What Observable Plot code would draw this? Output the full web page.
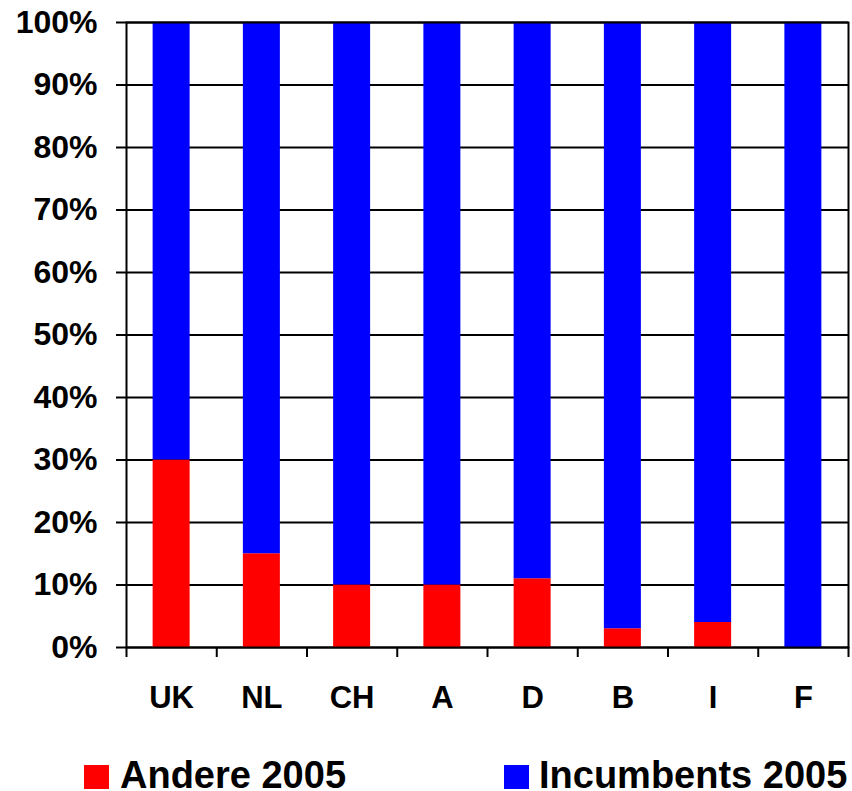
<!DOCTYPE html>
<html>
<head>
<meta charset="utf-8">
<script src="https://cdn.jsdelivr.net/npm/d3@7"></script>
<script src="https://cdn.jsdelivr.net/npm/@observablehq/plot@0.6"></script>
<style>
  body { margin: 0; background: #fff; font-family: "Liberation Sans", Arial, sans-serif; font-weight: bold; }
  #legend { position: relative; width: 852px; height: 51px; overflow: visible; }
  #legend .sw { position: absolute; width: 25px; height: 24px; top: 25px; }
  #legend .lb { position: absolute; top: 20px; font-size: 38px; line-height: 30px; color: #000; white-space: nowrap; }
</style>
</head>
<body>
<div id="chart"></div>
<div id="legend"></div>
<script>
// Market shares 2005 by country (percent)
const countries = ["UK", "NL", "CH", "A", "D", "B", "I", "F"];
const andere = [30, 15, 10, 10, 11, 3, 4, 0];
const incumbents = [70, 85, 90, 90, 89, 97, 96, 100];
const seriesNames = ["Andere 2005", "Incumbents 2005"];
const seriesColors = ["#ff0000", "#0000ff"];
const yTicks = [0, 10, 20, 30, 40, 50, 60, 70, 80, 90, 100];

const rows = countries.flatMap((c, i) => [
  {country: c, series: seriesNames[0], value: andere[i]},
  {country: c, series: seriesNames[1], value: incumbents[i]}
]);

const W = 852, H = 740;
const mTop = 22, mBottom = 93, mLeft = 126, mRight = 4;
const plotH = H - mTop - mBottom;
const step = (W - mLeft - mRight) / countries.length;

const chart = Plot.plot({
  width: W,
  height: H,
  marginTop: mTop,
  marginBottom: mBottom,
  marginLeft: mLeft,
  marginRight: mRight,
  style: {
    background: "white",
    color: "black",
    fontFamily: '"Liberation Sans", Arial, sans-serif',
    fontWeight: "bold",
    overflow: "visible"
  },
  x: {domain: countries, paddingInner: 0.59, paddingOuter: 0.295, round: false, axis: null},
  y: {domain: [0, 100], axis: null},
  color: {domain: seriesNames, range: seriesColors},
  marks: [
    Plot.ruleY(yTicks, {stroke: "black", strokeWidth: 2}),
    Plot.barY(rows, {x: "country", y: "value", fill: "series", order: seriesNames}),
    Plot.frame({stroke: "black", strokeWidth: 2}),
    Plot.axisY({
      ticks: yTicks,
      tickSize: 10,
      tickPadding: 19,
      tickFormat: d => d + "%",
      strokeWidth: 2,
      fontSize: 32,
      label: null
    }),
    Plot.axisX({tickSize: 0, tickPadding: 38, fontSize: 31, label: null}),
    // category boundary ticks below the axis
    Plot.ruleX(countries, {x: d => d, dx: -step / 2, insetTop: plotH, insetBottom: -10, stroke: "black", strokeWidth: 2}),
    Plot.ruleX(countries.slice(-1), {x: d => d, dx: step / 2, insetTop: plotH, insetBottom: -10, stroke: "black", strokeWidth: 2})
  ]
});
document.getElementById("chart").appendChild(chart);

// Legend below the chart
const legend = document.getElementById("legend");
const swatchLeft = [84, 504];
const labelLeft = [120, 539];
seriesNames.forEach((name, i) => {
  const sw = document.createElement("div");
  sw.className = "sw";
  sw.style.left = swatchLeft[i] + "px";
  sw.style.background = seriesColors[i];
  legend.appendChild(sw);
  const lb = document.createElement("div");
  lb.className = "lb";
  lb.style.left = labelLeft[i] + "px";
  lb.textContent = name;
  legend.appendChild(lb);
});
</script>
</body>
</html>
